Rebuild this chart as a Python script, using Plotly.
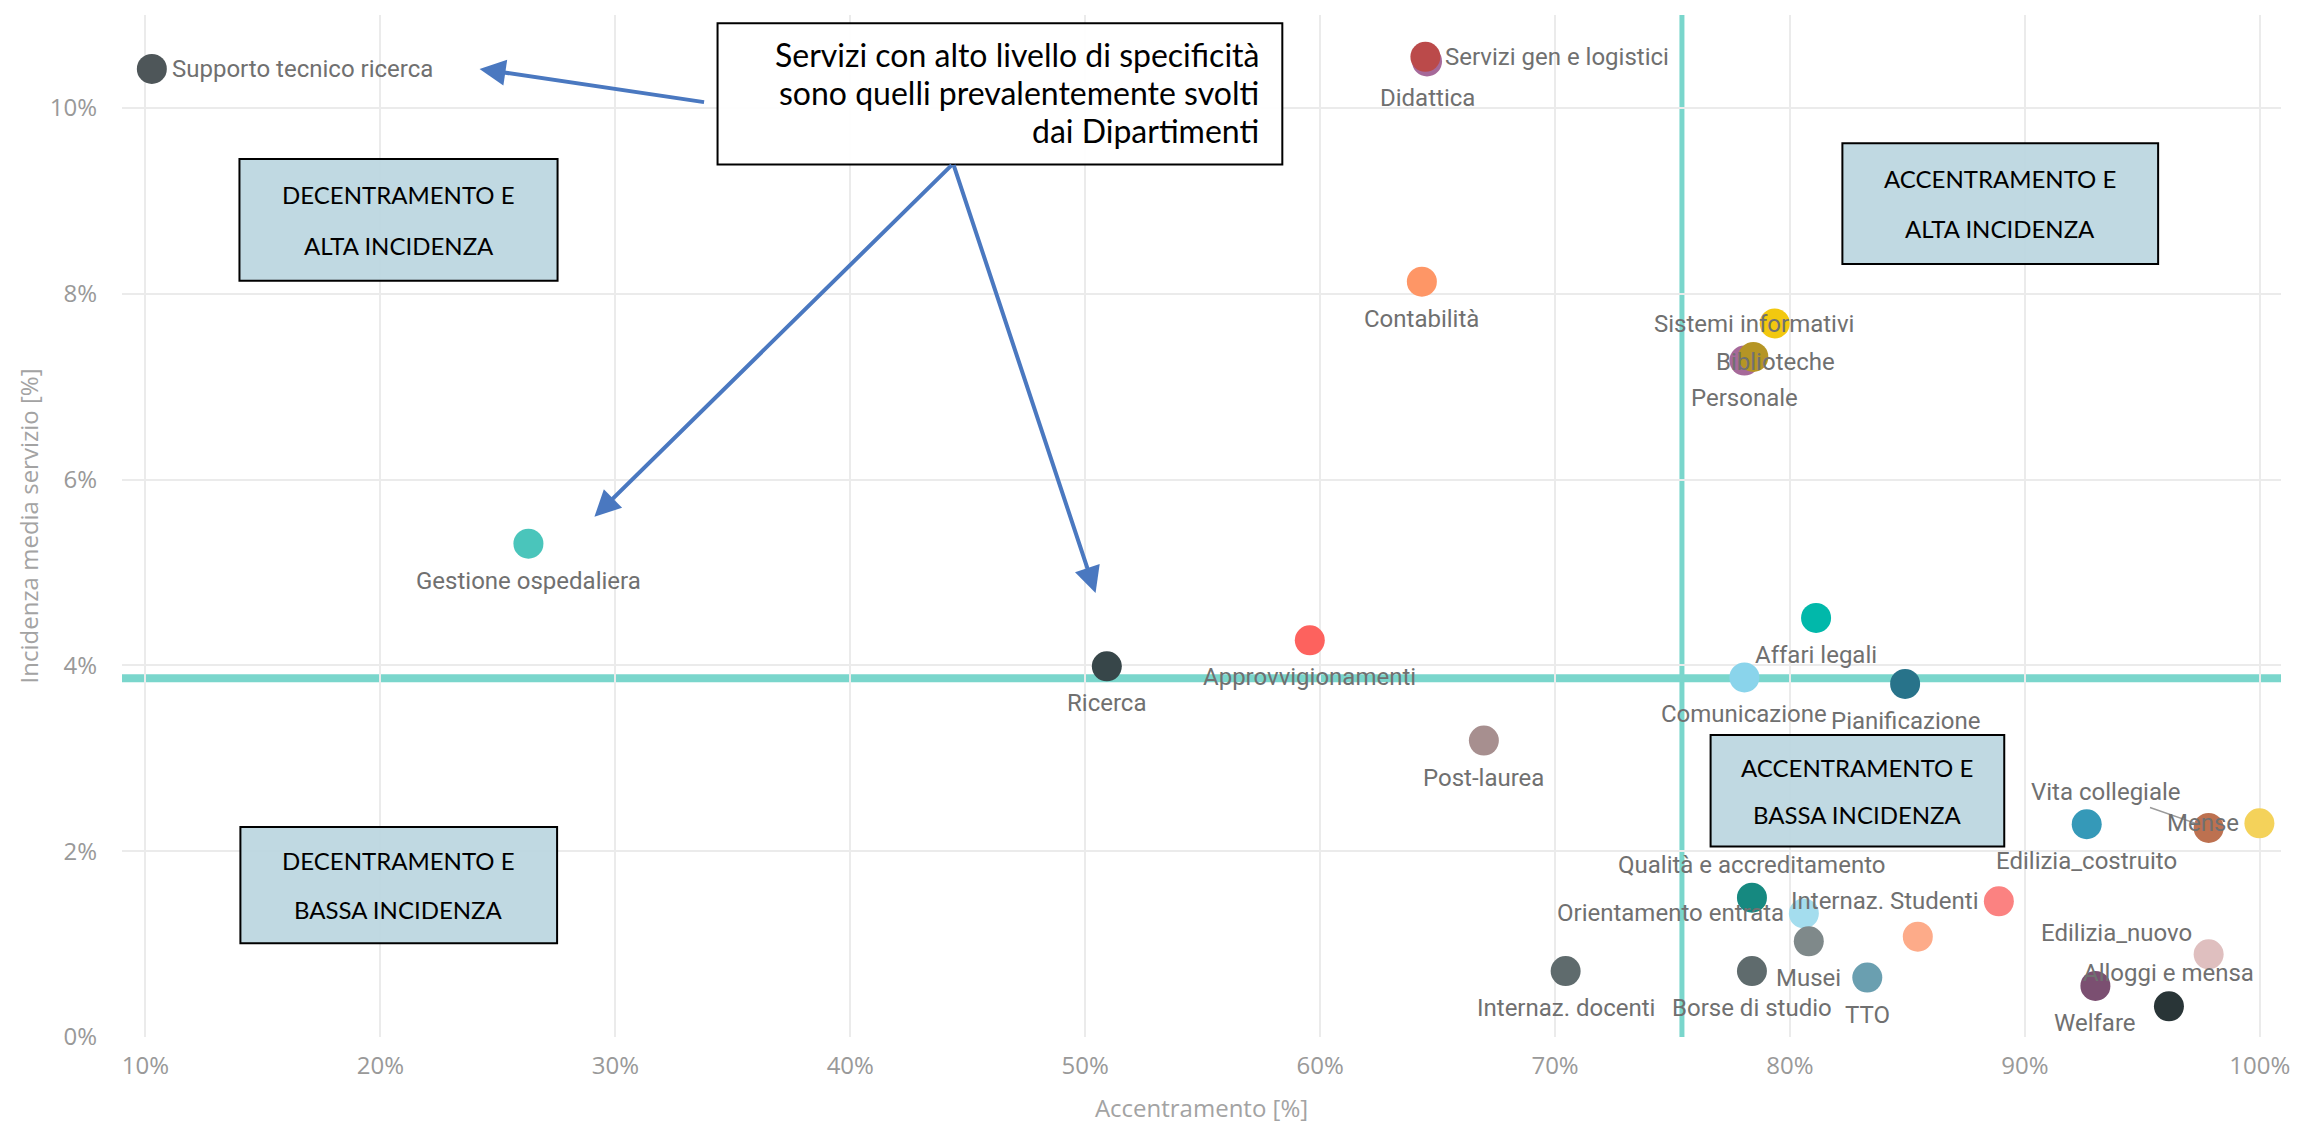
import plotly.graph_objects as go

# ---------------- data ----------------
services = [
    "Supporto tecnico ricerca", "Didattica", "Servizi gen e logistici", "Contabilità",
    "Personale", "Biblioteche", "Sistemi informativi", "Gestione ospedaliera",
    "Ricerca", "Approvvigionamenti", "Affari legali", "Comunicazione",
    "Pianificazione", "Post-laurea", "Edilizia_costruito", "Vita collegiale",
    "Mense", "Qualità e accreditamento", "Orientamento entrata", "Musei",
    "", "Internaz. Studenti", "Edilizia_nuovo", "Internaz. docenti",
    "Borse di studio", "TTO", "Welfare", "Alloggi e mensa",
]
accentramento = [
    10.27, 64.55, 64.48, 64.33,
    78.06, 78.44, 79.35, 26.30,
    50.92, 59.56, 81.11, 78.06,
    84.90, 66.97, 92.63, 97.82,
    99.98, 78.38, 80.59, 80.80,
    85.44, 88.89, 97.82, 70.45,
    78.38, 83.29, 93.00, 96.13,
]
incidenza = [
    10.42, 10.50, 10.55, 8.13,
    7.28, 7.32, 7.68, 5.31,
    3.99, 4.27, 4.51, 3.87,
    3.80, 3.19, 2.29, 2.25,
    2.30, 1.50, 1.33, 1.03,
    1.08, 1.46, 0.89, 0.71,
    0.71, 0.64, 0.55, 0.33,
]
colors = [
    "#4E5659", "#A66999", "#BB4A4A", "#FE9666",
    "#A66999", "#B59525", "#F2C80F", "#4AC5BB",
    "#374649", "#FD625E", "#01B8AA", "#8AD4EB",
    "#28738A", "#A78F8F", "#3599B8", "#BD7150",
    "#F4D25A", "#168980", "#A4DDEE", "#7F898A",
    "#FDAB89", "#FB8281", "#DFBFBF", "#5F6B6D",
    "#5F6B6D", "#6A9FB0", "#7B4F71", "#293537",
]
x_ticks = [10, 20, 30, 40, 50, 60, 70, 80, 90, 100]
y_ticks = [0, 2, 4, 6, 8, 10]
x_ref = 75.4     # linea di riferimento accentramento
y_ref = 3.86     # linea di riferimento incidenza
y_ref2 = 4.0     # linea sottile

quadrants = [
    ("DECENTRAMENTO E", "ALTA INCIDENZA"),
    ("ACCENTRAMENTO E", "ALTA INCIDENZA"),
    ("ACCENTRAMENTO E", "BASSA INCIDENZA"),
    ("DECENTRAMENTO E", "BASSA INCIDENZA"),
]
note_lines = [
    "Servizi con alto livello di specificità",
    "sono quelli prevalentemente svolti",
    "dai Dipartimenti",
]

# ---------------- styles ----------------
LABEL_FONT = dict(family="Roboto", size=24, color="#707070")
TICK_FONT = dict(family="Open Sans", size=24, color="#999999")
TITLE_FONT = dict(family="Open Sans", size=24, color="#a3a3a3")
BOX_FONT = dict(family="Lato", size=24, color="#000000")
NOTE_FONT = dict(family="Lato", size=32, color="#000000")
ARROW_COLOR = "#4A78C0"
TEAL = "#7AD6CC"

placement = {
    "Supporto tecnico ricerca": "right",
    "Servizi gen e logistici": "right",
    "Didattica": "below",
    "Contabilità": "below",
    "Personale": "below",
    "Biblioteche": (22, -5, "center"),
    "Sistemi informativi": (-21, -1, "center"),
    "Gestione ospedaliera": "below",
    "Ricerca": "below",
    "Approvvigionamenti": "below",
    "Affari legali": "below",
    "Comunicazione": "below",
    "Pianificazione": "below",
    "Post-laurea": "below",
    "Edilizia_costruito": "below",
    "Vita collegiale": "leader",
    "Mense": "left",
    "Qualità e accreditamento": "above",
    "Orientamento entrata": "left",
    "Musei": "below",
    "Internaz. Studenti": "left",
    "Edilizia_nuovo": (-15, 21, "right"),
    "Internaz. docenti": "below",
    "Borse di studio": "below",
    "TTO": "below",
    "Welfare": "below",
    "Alloggi e mensa": "above",
}

fig = go.Figure()
fig.add_trace(go.Scatter(
    x=accentramento, y=incidenza, mode="markers",
    marker=dict(size=30, color=colors, line=dict(width=0)),
    text=services, hovertemplate="%{text}<br>%{x:.1f}% / %{y:.2f}%<extra></extra>",
    showlegend=False,
))

annotations = []
for name, xv, yv in zip(services, accentramento, incidenza):
    if not name:
        continue
    p = placement.get(name, "below")
    a = dict(x=xv, y=yv, xref="x", yref="y", text=name, showarrow=False,
             font=LABEL_FONT, yanchor="middle")
    if p == "below":
        a.update(xanchor="center", yshift=-37)
    elif p == "above":
        a.update(xanchor="center", yshift=33)
    elif p == "left":
        a.update(xanchor="right", xshift=-18)
    elif p == "right":
        a.update(xanchor="left", xshift=18)
    elif p == "leader":
        a.update(showarrow=True, arrowhead=0, arrowwidth=1.5, arrowcolor="#9a9a9a",
                 ax=-103, ay=-36, standoff=10, xanchor="center")
    else:
        dx, dy, anc = p
        a.update(xanchor=anc, xshift=dx, yshift=dy)
    annotations.append(a)

# ---------- decorative boxes (data coordinates) ----------
quad_boxes = [
    (14.0, 27.54, 8.14, 9.45),
    (82.23, 95.67, 8.32, 9.62),
    (76.62, 89.12, 2.05, 3.25),
    (14.04, 27.52, 1.01, 2.26),
]
shapes = []
# reference lines
shapes.append(dict(type="line", xref="x", yref="paper", x0=x_ref, x1=x_ref, y0=0, y1=1,
                   line=dict(color=TEAL, width=5), layer="between"))
shapes.append(dict(type="line", xref="paper", yref="y", x0=0, x1=1, y0=y_ref2, y1=y_ref2,
                   line=dict(color="#F6D3D3", width=1.5), layer="between"))
shapes.append(dict(type="line", xref="paper", yref="y", x0=0, x1=1, y0=y_ref, y1=y_ref,
                   line=dict(color=TEAL, width=8), layer="between"))

for (x0, x1, y0, y1), (l1, l2) in zip(quad_boxes, quadrants):
    shapes.append(dict(type="rect", xref="x", yref="y", x0=x0, x1=x1, y0=y0, y1=y1,
                       fillcolor="rgba(189,215,224,0.95)", line=dict(color="#000000", width=2),
                       layer="above"))
    xc = (x0 + x1) / 2
    h = y1 - y0
    annotations.append(dict(x=xc, y=y0 + h * 0.71, xref="x", yref="y", text=l1,
                            showarrow=False, font=BOX_FONT, xanchor="center", yanchor="middle"))
    annotations.append(dict(x=xc, y=y0 + h * 0.29, xref="x", yref="y", text=l2,
                            showarrow=False, font=BOX_FONT, xanchor="center", yanchor="middle"))

# note box
nb = (34.35, 58.39, 9.39, 10.91)
shapes.append(dict(type="rect", xref="x", yref="y", x0=nb[0], x1=nb[1], y0=nb[2], y1=nb[3],
                   fillcolor="rgba(255,255,255,0.93)", line=dict(color="#000000", width=2),
                   layer="above"))
for i, line in enumerate(note_lines):
    annotations.append(dict(x=nb[1] - 0.9, y=nb[3] - 0.33 - i * 0.41, xref="x", yref="y",
                            text=line, showarrow=False, font=NOTE_FONT,
                            xanchor="right", yanchor="middle"))

# arrows (tail -> head), data coordinates
arrows = [
    ((33.84, 10.06), (24.22, 10.42)),
    ((44.38, 9.40), (29.11, 5.60)),
    ((44.38, 9.40), (50.44, 4.78)),
]
for (tx, ty), (hx, hy) in arrows:
    annotations.append(dict(x=hx, y=hy, ax=tx, ay=ty, xref="x", yref="y", axref="x", ayref="y",
                            text="", showarrow=True, arrowhead=2, arrowsize=1.3, arrowwidth=4,
                            arrowcolor=ARROW_COLOR, standoff=0))

fig.update_layout(
    width=2308, height=1126,
    margin=dict(l=114, r=35, t=7, b=97),
    paper_bgcolor="white", plot_bgcolor="white",
    shapes=shapes, annotations=annotations,
    xaxis=dict(range=[9.0, 100.9], tickvals=x_ticks, ticktext=[f"{v}%" for v in x_ticks],
               showgrid=True, gridcolor="#EBEBEB", gridwidth=1.5, zeroline=False,
               showline=False, tickfont=TICK_FONT, ticks="", ticklabelstandoff=12,
               title=dict(text="Accentramento [%]", font=TITLE_FONT, standoff=20),
               automargin=False),
    yaxis=dict(range=[0, 11.0], tickvals=y_ticks, ticktext=[f"{v}%" for v in y_ticks],
               showgrid=True, gridcolor="#EBEBEB", gridwidth=1.5, zeroline=False,
               showline=False, tickfont=TICK_FONT, ticks="", ticklabelstandoff=24,
               title=dict(text="Incidenza media servizio [%]", font=TITLE_FONT, standoff=4),
               automargin=False),
)

fig.write_html("out.html")
